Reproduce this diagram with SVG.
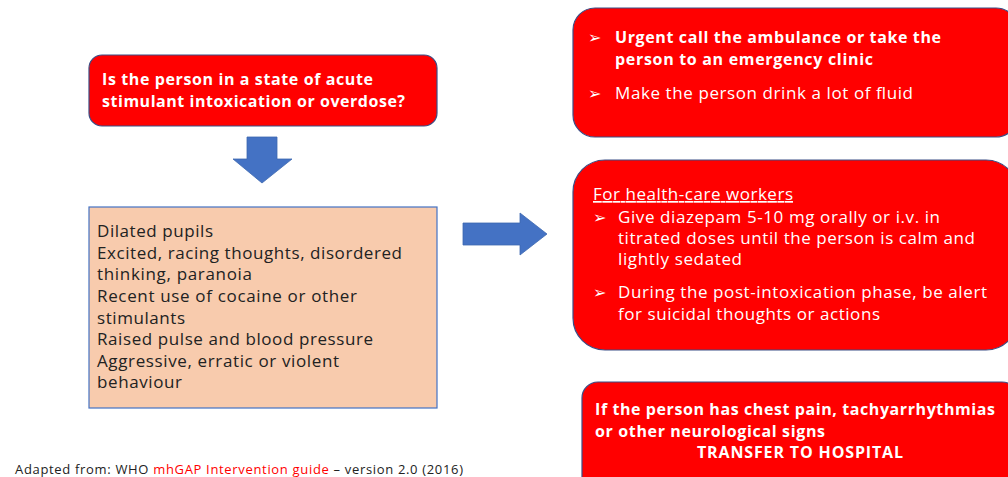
<svg xmlns="http://www.w3.org/2000/svg" width="1008" height="477" viewBox="0 0 1008 477">
<style>
.red{fill:#FF0000;stroke:#3B4E86;stroke-width:1.2}
.peach{fill:#F8CBAD;stroke:#4472C4;stroke-width:1.2}
.arrow{fill:#4472C4;stroke:#3E68B0;stroke-width:0.8}
.wb{font-family:"Open Sans","Liberation Sans",Arial,sans-serif;font-weight:bold;fill:#fff;font-size:16px}
.wr{font-family:"Open Sans","Liberation Sans",Arial,sans-serif;fill:#fff;font-size:17px}
.dk{font-family:"Open Sans","Liberation Sans",Arial,sans-serif;fill:#222;font-size:17px}
.ft{font-family:"Open Sans","Liberation Sans",Arial,sans-serif;fill:#222;font-size:13px}
.bul{font-family:"DejaVu Sans",sans-serif;fill:#fff;font-size:16px}
</style>
<rect width="1008" height="477" fill="#fff"/>
<g id="question">
<rect class="red" x="89" y="55" width="348" height="71" rx="13"/>
<text class="wb" x="102" y="85" textLength="271">Is the person in a state of acute</text>
<text class="wb" x="102" y="107" textLength="303">stimulant intoxication or overdose?</text>
</g>
<g id="symptoms">
<rect class="peach" x="89" y="207" width="348" height="201"/>
<text class="dk" x="97" y="237" textLength="116">Dilated pupils</text>
<text class="dk" x="97" y="259" textLength="305">Excited, racing thoughts, disordered</text>
<text class="dk" x="97" y="280" textLength="155">thinking, paranoia</text>
<text class="dk" x="97" y="302" textLength="260">Recent use of cocaine or other</text>
<text class="dk" x="97" y="324" textLength="88">stimulants</text>
<text class="dk" x="97" y="345" textLength="276">Raised pulse and blood pressure</text>
<text class="dk" x="97" y="367" textLength="242">Aggressive, erratic or violent</text>
<text class="dk" x="97" y="388" textLength="85">behaviour</text>
</g>
<g id="urgent">
<rect class="red" x="573" y="8" width="445" height="129" rx="22"/>
<text class="bul" x="588" y="43">➢</text>
<text class="wb" x="615" y="43" textLength="326">Urgent call the ambulance or take the</text>
<text class="wb" x="615" y="65" textLength="258">person to an emergency clinic</text>
<text class="bul" x="588" y="99">➢</text>
<text class="wr" x="615" y="99" textLength="298">Make the person drink a lot of fluid</text>
</g>
<g id="healthcare">
<rect class="red" x="573" y="160" width="445" height="190" rx="32"/>
<text class="wr" x="593" y="200" textLength="200" text-decoration="underline">For health-care workers</text>
<text class="bul" x="593" y="223">➢</text>
<text class="wr" x="618" y="223" textLength="322">Give diazepam 5-10 mg orally or i.v. in</text>
<text class="wr" x="618" y="244" textLength="357">titrated doses until the person is calm and</text>
<text class="wr" x="618" y="265" textLength="124">lightly sedated</text>
<text class="bul" x="593" y="298">➢</text>
<text class="wr" x="618" y="298" textLength="369">During the post-intoxication phase, be alert</text>
<text class="wr" x="618" y="320" textLength="262">for suicidal thoughts or actions</text>
</g>
<g id="transfer">
<rect class="red" x="582" y="382" width="436" height="110" rx="16"/>
<text class="wb" x="595" y="415" textLength="400">If the person has chest pain, tachyarrhythmias</text>
<text class="wb" x="595" y="437" textLength="230">or other neurological signs</text>
<text class="wb" x="697" y="458" textLength="206">TRANSFER TO HOSPITAL</text>
</g>
<g id="connectors">
<polygon class="arrow" points="247,137 277,137 277,159 292,159 262,183 233,159 247,159"/>
<polygon class="arrow" points="463,223 520,223 520,213 547,234 520,255 520,245 463,245"/>
</g>
<text class="ft" x="15" y="474" textLength="448">Adapted from: WHO <tspan fill="#FF0000">mhGAP Intervention guide</tspan> – version 2.0 (2016)</text>
</svg>
